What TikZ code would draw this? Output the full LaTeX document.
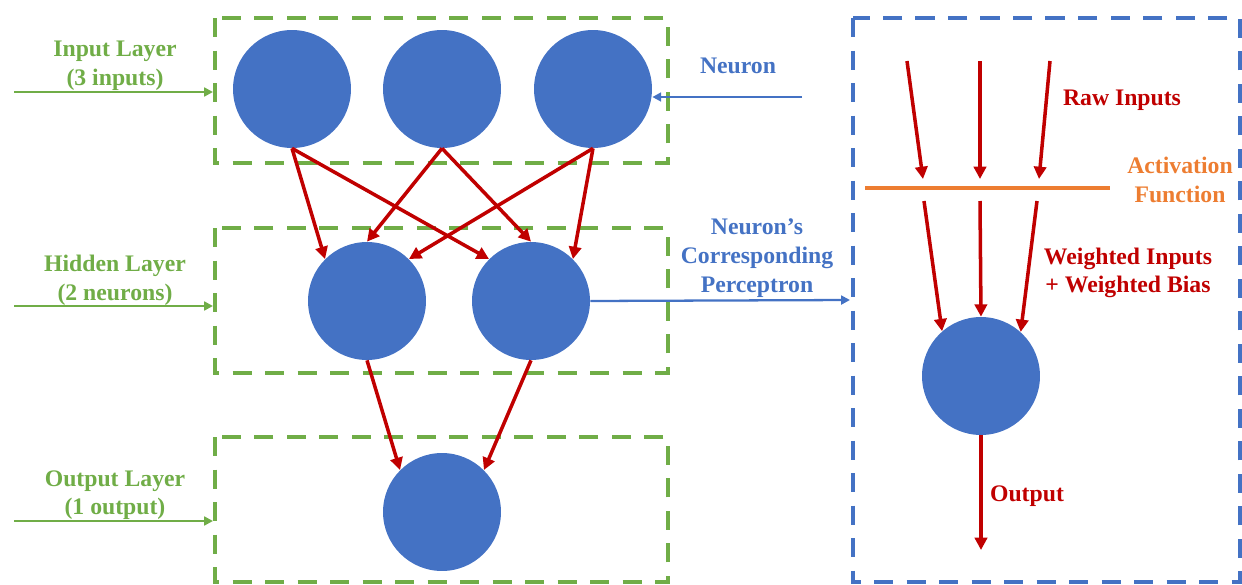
\documentclass[tikz,border=0pt]{standalone}
\usepackage{fontspec}
\setmainfont{Liberation Serif}
\usetikzlibrary{arrows.meta}
\definecolor{cgreen}{HTML}{70AD47}
\definecolor{cblue}{HTML}{4472C4}
\definecolor{cred}{HTML}{C00000}
\definecolor{corange}{HTML}{ED7D31}
\begin{document}
\begin{tikzpicture}[x=0.02cm,y=-0.02cm,
  neuron/.style={circle,fill=cblue,minimum size=2.36cm,inner sep=0pt},
  layerbox/.style={draw=cgreen,line width=2.3pt,dash pattern=on 11pt off 7.5pt},
  percbox/.style={draw=cblue,line width=2.3pt,dash pattern=on 11pt off 7.5pt},
  redarrow/.style={draw=cred,line width=2pt,-{Triangle[length=7pt,width=7pt]}},
  greenarrow/.style={draw=cgreen,line width=1.3pt,-{Triangle[length=5pt,width=5pt]}},
  bluearrow/.style={draw=cblue,line width=1.3pt,-{Triangle[length=5pt,width=5pt]}},
  lbl/.style={font=\bfseries\fontsize{13.5}{16.3}\selectfont,align=center,inner sep=0pt}]
\useasboundingbox (0,0) rectangle (1242,585);

% layer boxes
\draw[layerbox] (215,18) rectangle (668,163);
\draw[layerbox] (215,228) rectangle (668,373);
\draw[layerbox] (215,437) rectangle (668,582);
\draw[percbox] (853,18) rectangle (1240,582);

% neurons
\node[neuron] (i1) at (292,89) {};
\node[neuron] (i2) at (442,89) {};
\node[neuron] (i3) at (593,89) {};
\node[neuron] (h1) at (367,301) {};
\node[neuron] (h2) at (531,301) {};
\node[neuron] (o1) at (442,512) {};
\node[neuron] (p) at (981,376) {};

% network connections
\draw[redarrow] (i1.south) -- (h1.135);
\draw[redarrow] (i1.south) -- (h2.135);
\draw[redarrow] (i2.south) -- (h1.90);
\draw[redarrow] (i2.south) -- (h2.90);
\draw[redarrow] (i3.south) -- (h1.45);
\draw[redarrow] (i3.south) -- (h2.45);
\draw[redarrow] (h1.south) -- (o1.135);
\draw[redarrow] (h2.south) -- (o1.45);

% layer labels
\node[lbl,text=cgreen] (lin) at (115,66) {Input Layer\\(3 inputs)};
\node[lbl,text=cgreen] (lhid) at (115,280) {Hidden Layer\\(2 neurons)};
\node[lbl,text=cgreen] (lout) at (115,495) {Output Layer\\(1 output)};
\coordinate (a1s) at (14,92);
\coordinate (a1e) at (213,92);
\coordinate (a2s) at (14,306);
\coordinate (a2e) at (213,306);
\coordinate (a3s) at (14,521);
\coordinate (a3e) at (213,521);
\draw[greenarrow] (a1s) -- (a1e);
\draw[greenarrow] (a2s) -- (a2e);
\draw[greenarrow] (a3s) -- (a3e);

% neuron label
\node[lbl,text=cblue] (nlab) at (738,66) {Neuron};
\coordinate (ns) at (802,97);
\draw[bluearrow] (ns) -- (i3.east |- ns);
\node[lbl,text=cblue] (plab) at (757,258) {Neuron’s\\Corresponding\\Perceptron};
\coordinate (pe) at (850,300);
\draw[bluearrow] (h2.east) -- (pe);

% perceptron panel
\coordinate (r1s) at (907,61);
\coordinate (r2s) at (980,61);
\coordinate (r3s) at (1050,61);
\coordinate (r1e) at (923,179);
\coordinate (r2e) at (980,179);
\coordinate (r3e) at (1039,179);
\draw[redarrow] (r1s) -- (r1e);
\draw[redarrow] (r2s) -- (r2e);
\draw[redarrow] (r3s) -- (r3e);
\node[lbl,text=cred] (rawlab) at (1122,100) {Raw Inputs};

\coordinate (act1) at (865,188);
\coordinate (act2) at (1110,188);
\draw[draw=corange,line width=2.3pt] (act1) -- (act2);
\node[lbl,text=corange] (actlab) at (1180,180) {Activation\\Function};

\coordinate (w1s) at (924,201);
\coordinate (w2s) at (980,201);
\coordinate (w3s) at (1037,201);
\draw[redarrow] (w1s) -- (p.131);
\draw[redarrow] (w2s) -- (p.north);
\draw[redarrow] (w3s) -- (p.48);
\node[lbl,text=cred] (wlab) at (1128,273) {Weighted Inputs\\+ Weighted Bias};

\coordinate (oe) at (981,550);
\draw[redarrow] (p.south) -- (oe);
\node[lbl,text=cred] (olab) at (1027,496) {Output};
\end{tikzpicture}
\end{document}
